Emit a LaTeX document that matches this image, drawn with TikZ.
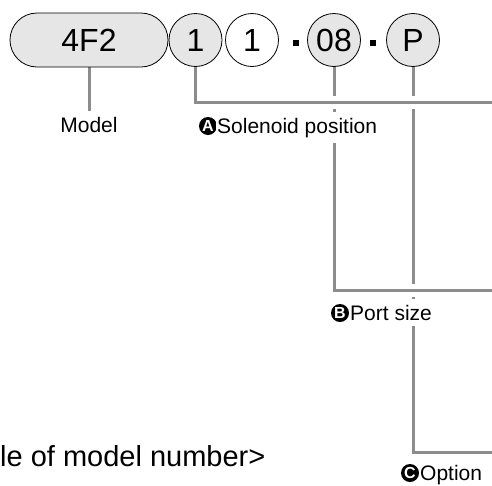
\documentclass[tikz,border=0pt]{standalone}
\usepackage{fontspec}
\setmainfont{Liberation Sans}
\usepackage{xcolor}
\usetikzlibrary{shapes.misc, positioning, backgrounds}

\definecolor{codegray}{HTML}{E6E6E6}
\definecolor{leadgray}{HTML}{8C8C8C}

\tikzset{
  codepill/.style={rounded rectangle, draw=black, line width=0.8pt, fill=codegray,
    minimum width=158pt, minimum height=54pt, inner sep=0pt, font=\fontsize{32}{38}\selectfont},
  codering/.style={circle, draw=black, line width=0.8pt, minimum size=53pt,
    inner sep=0pt, font=\fontsize{32}{38}\selectfont},
  sepdot/.style={rectangle, fill=black, minimum size=6pt, inner sep=0pt},
  leader/.style={draw=leadgray, line width=3pt},
  leadcut/.style={leader, preaction={draw=white, line width=13pt}},
  badge/.style={circle, fill=black, text=white, minimum size=18pt, inner sep=0pt,
    font=\fontsize{16}{16}\selectfont\bfseries},
  caption/.style={anchor=base west, inner xsep=1pt, inner ysep=6pt, fill=white,
    font=\fontsize{21}{25}\selectfont},
}

\begin{document}
\begin{tikzpicture}[x=1pt, y=-1pt]
  \useasboundingbox (0,0) rectangle (492,485);

  % code fields
  \node[codepill] (model) at (89,40) {4F2};
  \node[codering, fill=codegray] (sol) at (195.5,40) {1};
  \node[codering, fill=white] (mode) at (252,40) {1};
  \node[sepdot] (dotA) at (296,43) {};
  \node[codering, fill=codegray] (port) at (334,40) {08};
  \node[sepdot] (dotB) at (373,43) {};
  \node[codering, fill=codegray] (opt) at (413,40) {P};

  % captions
  \node[caption, anchor=base] (modellab) at (89,132) {Model};
  \node[badge] (markA) at (208,126) {A};
  \node[caption] (labA) at (216,133) {Solenoid position};
  \node[badge] (markB) at (340,313) {B};
  \node[caption] (labB) at (349,320) {Port size};
  \node[badge] (markC) at (410,473) {C};
  \node[caption] (labC) at (419,480) {Option};
  \node[anchor=base west, inner sep=0pt, font=\fontsize{29}{34}\selectfont] (example) at (0,466) {le of model number>};

  \coordinate (endA) at (496,102);
  \coordinate (endB) at (496,290);
  \coordinate (endC) at (496,452);

  % leader lines
  \begin{scope}[on background layer]
    \draw[leader] (model.south) -- (modellab.north);
    \draw[leadcut] (opt.south) -- (opt.south |- endC) -- (endC);
    \draw[leadcut] (port.south) -- (port.south |- endB) -- (endB);
    \draw[leadcut] (sol.south) -- (sol.south |- endA) -- (endA);
  \end{scope}
\end{tikzpicture}
\end{document}
